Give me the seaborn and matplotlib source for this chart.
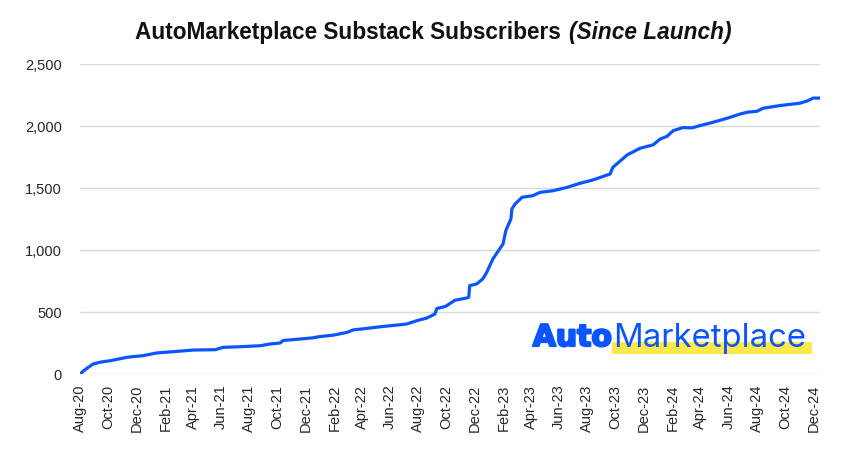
import matplotlib
matplotlib.use("Agg")
import matplotlib.pyplot as plt
import matplotlib.dates as mdates
import matplotlib.patheffects as pe
from matplotlib.ticker import FuncFormatter
from matplotlib.patches import Rectangle
import seaborn as sns
import pandas as pd

dates = ["2020-08-01","2020-08-12","2020-08-29","2020-09-13","2020-10-05","2020-11-11","2020-12-15",
         "2021-01-14","2021-02-18","2021-04-02","2021-05-20","2021-06-06","2021-07-13","2021-08-25",
         "2021-09-15","2021-10-07","2021-10-13","2021-11-19","2021-12-17","2022-01-01","2022-01-29",
         "2022-02-28","2022-03-13","2022-04-12","2022-05-16","2022-06-22","2022-07-07","2022-07-29",
         "2022-08-20","2022-09-06","2022-09-10","2022-09-29","2022-10-19","2022-11-14","2022-11-18",
         "2022-11-20","2022-12-05","2022-12-18","2022-12-27","2023-01-09","2023-01-31","2023-02-06",
         "2023-02-17","2023-02-19","2023-02-26","2023-03-13","2023-04-05","2023-04-21","2023-05-19",
         "2023-06-18","2023-07-16","2023-08-13","2023-09-19","2023-09-25","2023-10-26","2023-11-23",
         "2023-12-21","2024-01-05","2024-01-20","2024-02-02","2024-02-23","2024-03-14","2024-03-31",
         "2024-04-28","2024-05-29","2024-06-26","2024-07-11","2024-08-01","2024-08-14","2024-09-20",
         "2024-11-02","2024-11-19","2024-11-30","2024-12-15"]
subscribers = [0,35,80,95,107,135,148,170,180,193,196,215,220,228,242,250,270,282,292,302,313,
               335,355,368,383,397,403,430,452,484,528,545,595,613,619,713,726,766,821,928,1049,
               1157,1250,1331,1371,1425,1438,1465,1478,1505,1538,1565,1613,1667,1767,1821,1848,
               1895,1917,1962,1987,1985,2003,2030,2063,2097,2111,2119,2143,2165,2184,2204,2225,2225]
y_ticks = [0, 500, 1000, 1500, 2000, 2500]

title_main = "AutoMarketplace Substack Subscribers "
title_sub = "(Since Launch)"
logo_a = "Auto"
logo_b = "Marketplace"

df = pd.DataFrame({"date": pd.to_datetime(dates), "subs": subscribers})

sns.set_theme(style="white")
plt.rcParams["font.family"] = ["Liberation Sans", "DejaVu Sans"]

fig = plt.figure(figsize=(8.47, 4.56), dpi=100)
ax = fig.add_axes([80/847, 1-375/456, (820-80)/847, (375-65)/456])

sns.lineplot(data=df, x="date", y="subs", ax=ax, color="#0A55FF", linewidth=2.3, zorder=3)

ax.set_xlim(df["date"].iloc[0], df["date"].iloc[-1])
ax.set_ylim(0, 2500)
ax.set_yticks(y_ticks)
ax.yaxis.set_major_formatter(FuncFormatter(lambda v, p: f"{int(v):,}"))
ax.xaxis.set_major_locator(mdates.MonthLocator(bymonth=[2, 4, 6, 8, 10, 12]))
ax.xaxis.set_major_formatter(mdates.DateFormatter("%b-%y"))
ax.grid(axis="y", color="#d9d9d9", linewidth=1.0)
ax.grid(axis="x", visible=False)
for s in ax.spines.values():
    s.set_visible(False)
ax.set_xlabel("")
ax.set_ylabel("")
ax.tick_params(axis="x", rotation=90, labelsize=10.5, colors="#262626", length=0, pad=7)
ax.tick_params(axis="y", labelsize=10.5, colors="#262626", length=0, pad=13)

ty = 1 - 39/456
fig.text(567/847, ty, title_main, ha="right", va="baseline", fontsize=16.3,
         fontweight="bold", color="#111111")
fig.text(569/847, ty, title_sub, ha="left", va="baseline", fontsize=16.3,
         fontweight="bold", style="italic", color="#111111")

# logo
fig.patches.append(Rectangle((612/847, 1-355/456), 200/847, 12/456, transform=fig.transFigure,
                             facecolor="#FFE94A", edgecolor="none", zorder=1))
ly = 1 - 347/456
fig.text(612/847, ly, logo_a, ha="right", va="baseline", fontsize=21.5, fontweight="bold",
         family=["DejaVu Sans"], color="#0A55FF", zorder=5,
         path_effects=[pe.Stroke(linewidth=1.6, foreground="#0A55FF", joinstyle="round"), pe.Normal()])
fig.text(613/847, ly, logo_b, ha="left", va="baseline", fontsize=23.7, fontweight="normal",
         family=["Inter", "Roboto", "DejaVu Sans"], color="#0A55FF", zorder=5)

fig.savefig("out.png", dpi=100, facecolor="white")
